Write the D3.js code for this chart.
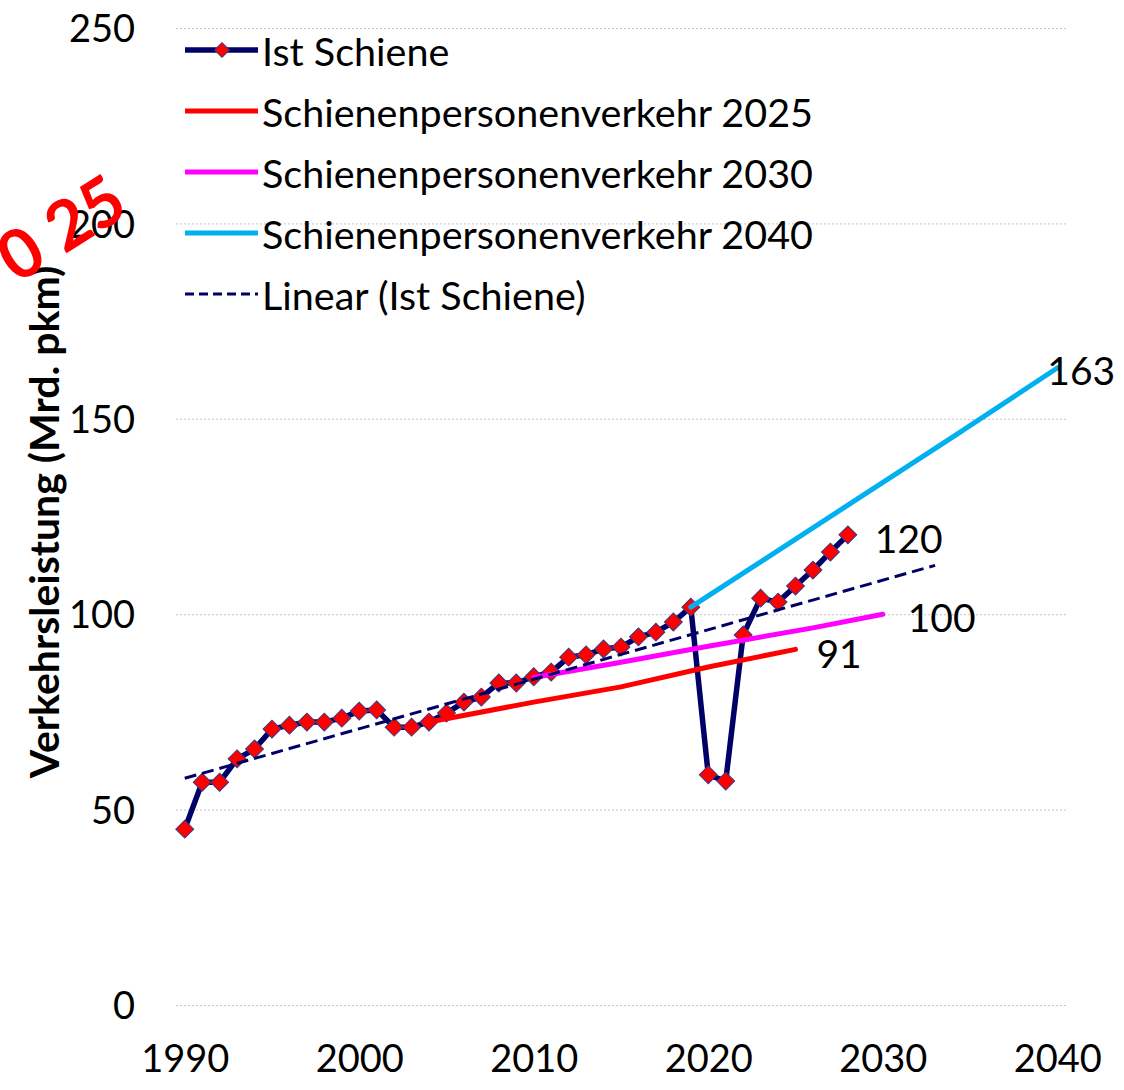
<!DOCTYPE html>
<html>
<head>
<meta charset="utf-8">
<script src="https://cdn.jsdelivr.net/npm/d3@7"></script>
<style>
  body { margin: 0; background: #fff; }
  svg text { font-family: Lato, "Open Sans", sans-serif; fill: #000; }
  .grid line { stroke: #c4c4c4; stroke-width: 1; stroke-dasharray: 2,2; }
  .grid .domain { display: none; }
  .axis .domain { display: none; }
  .axis text { font-size: 38px; }
  .lbl { font-size: 39px; }
</style>
</head>
<body>
<div id="chart"></div>
<script>
// --- data (Mrd. pkm) ---
const years = d3.range(1990, 2029);
const istSchiene = [45, 57, 57, 63, 65.5, 70.6, 71.6, 72.4, 72.4, 73.4,
  75.2, 75.5, 71.1, 71.1, 72.4, 74.7, 77.5, 78.8, 82.4, 82.4,
  84, 85.2, 89, 89.6, 91.1, 91.6, 94.2, 95.4, 98, 101.8,
  58.9, 57.3, 94.7, 104.1, 103.1, 107.2, 111.3, 115.9, 120.3];

const spv2025Years = [2004, 2010, 2015, 2020, 2025];
const spv2025 = [72.4, 77.5, 81.4, 86.5, 91];
const spv2030Years = [2010, 2015, 2020, 2026, 2030];
const spv2030 = [83.8, 87.7, 91.8, 96.5, 100];
const spv2040Years = [2019, 2023, 2028, 2034, 2040];
const spv2040 = [101.8, 113.4, 127.9, 145.3, 163];

const xTicks = [1990, 2000, 2010, 2020, 2030, 2040];
const yTicks = [0, 50, 100, 150, 200, 250];
const trendForward = 5; // Excel trendline forecast, years

const legendLabels = ["Ist Schiene", "Schienenpersonenverkehr 2025",
  "Schienenpersonenverkehr 2030", "Schienenpersonenverkehr 2040", "Linear (Ist Schiene)"];

const navy = "#000066";

const width = 1124, height = 1090;
const margin = { top: 28, right: 58, bottom: 85, left: 176 };

const svg = d3.select("#chart").append("svg")
  .attr("width", width).attr("height", height);

const x = d3.scaleLinear().domain([1989.5, 2040.5]).range([margin.left, width - margin.right]);
const y = d3.scaleLinear().domain([0, 250]).range([height - margin.bottom, margin.top]);

// gridlines
svg.append("g").attr("class", "grid")
  .attr("transform", `translate(${margin.left},0)`)
  .call(d3.axisLeft(y).tickValues(yTicks).tickSize(-(width - margin.left - margin.right)).tickFormat(""));

// axes (labels only)
svg.append("g").attr("class", "axis")
  .attr("transform", `translate(0,${y(0)})`)
  .call(d3.axisBottom(x).tickValues(xTicks).tickSize(0).tickPadding(40).tickFormat(d3.format("d")));

svg.append("g").attr("class", "axis")
  .attr("transform", `translate(${margin.left},0)`)
  .call(d3.axisLeft(y).tickValues(yTicks).tickSize(0).tickPadding(41))
  .selectAll("text").attr("dy", "0.36em");

// y title
svg.append("text")
  .attr("transform", `translate(43,522) rotate(-90)`)
  .attr("text-anchor", "middle")
  .attr("dominant-baseline", "central")
  .style("font-size", "41px")
  .style("font-weight", "bold")
  .text("Verkehrsleistung (Mrd. pkm)");

const line = d3.line().x(d => x(d[0])).y(d => y(d[1]));

const ist = years.map((yr, i) => [yr, istSchiene[i]]);

// Ist Schiene
svg.append("path").datum(ist)
  .attr("d", line).attr("fill", "none")
  .attr("stroke", navy).attr("stroke-width", 5.5).attr("stroke-linejoin", "round");

const diamond = d3.symbol().type(d3.symbolSquare).size(160);
svg.selectAll(".mk").data(ist).enter().append("path")
  .attr("class", "mk")
  .attr("d", diamond)
  .attr("transform", d => `translate(${x(d[0])},${y(d[1])}) rotate(45)`)
  .attr("fill", "#ff0000").attr("stroke", "#3a3a80").attr("stroke-width", 1);

// scenarios
const scenarios = [
  { yrs: spv2025Years, vals: spv2025, color: "#ff0000", dx: 21, dy: 4 },
  { yrs: spv2030Years, vals: spv2030, color: "#ff00ff", dx: 25, dy: 3 },
  { yrs: spv2040Years, vals: spv2040, color: "#00b0f0", dx: -10, dy: 2 }
];
scenarios.forEach(s => {
  const pts = s.yrs.map((yr, i) => [yr, s.vals[i]]);
  svg.append("path").datum(pts)
    .attr("d", line).attr("fill", "none")
    .attr("stroke", s.color).attr("stroke-width", 5).attr("stroke-linecap", "round");
});

// linear trend of Ist Schiene
const mx = d3.mean(years), my = d3.mean(istSchiene);
const slope = d3.sum(years, (yr, i) => (yr - mx) * (istSchiene[i] - my)) /
              d3.sum(years, yr => (yr - mx) * (yr - mx));
const trendEnd = years[years.length - 1] + trendForward;
const trend = [years[0], trendEnd].map(yr => [yr, my + slope * (yr - mx)]);
svg.append("path").datum(trend)
  .attr("d", line).attr("fill", "none")
  .attr("stroke", navy).attr("stroke-width", 3).attr("stroke-dasharray", "12,6");

// end labels
const lastIst = ist[ist.length - 1];
svg.append("text").attr("class", "lbl")
  .attr("x", x(lastIst[0]) + 27).attr("y", y(lastIst[1]) + 3)
  .attr("dominant-baseline", "central")
  .text(Math.round(lastIst[1]));
scenarios.forEach(s => {
  const n = s.yrs.length - 1;
  svg.append("text").attr("class", "lbl")
    .attr("x", x(s.yrs[n]) + s.dx).attr("y", y(s.vals[n]) + s.dy)
    .attr("dominant-baseline", "central")
    .text(Math.round(s.vals[n]));
});

// legend
const legend = svg.append("g").attr("transform", "translate(185,50)");
const legendStyles = [
  { color: navy, w: 5.5, dash: null, marker: true },
  { color: "#ff0000", w: 5, dash: null },
  { color: "#ff00ff", w: 5, dash: null },
  { color: "#00b0f0", w: 5, dash: null },
  { color: navy, w: 3, dash: "9,5" }
];
legendLabels.forEach((t, i) => {
  const g = legend.append("g").attr("transform", `translate(0,${i * 61})`);
  const st = legendStyles[i];
  g.append("line").attr("x1", 0).attr("x2", 73)
    .attr("stroke", st.color).attr("stroke-width", st.w)
    .attr("stroke-dasharray", st.dash);
  if (st.marker) {
    g.append("path").attr("d", d3.symbol().type(d3.symbolSquare).size(110))
      .attr("transform", "translate(37,0) rotate(45)")
      .attr("fill", "#ff0000").attr("stroke", "#3a3a80").attr("stroke-width", 1);
  }
  g.append("text").attr("x", 77).attr("dominant-baseline", "central")
    .style("font-size", "39.5px").text(t);
});

// red stamp in the top-left corner (partly cut by the edge, as in the source)
svg.append("text")
  .attr("transform", "translate(60,226) rotate(-32)")
  .attr("text-anchor", "middle")
  .attr("dominant-baseline", "central")
  .style("font-size", "68px")
  .style("font-weight", "bold")
  .style("fill", "#ff0000")
  .text("0 25");
</script>
</body>
</html>
